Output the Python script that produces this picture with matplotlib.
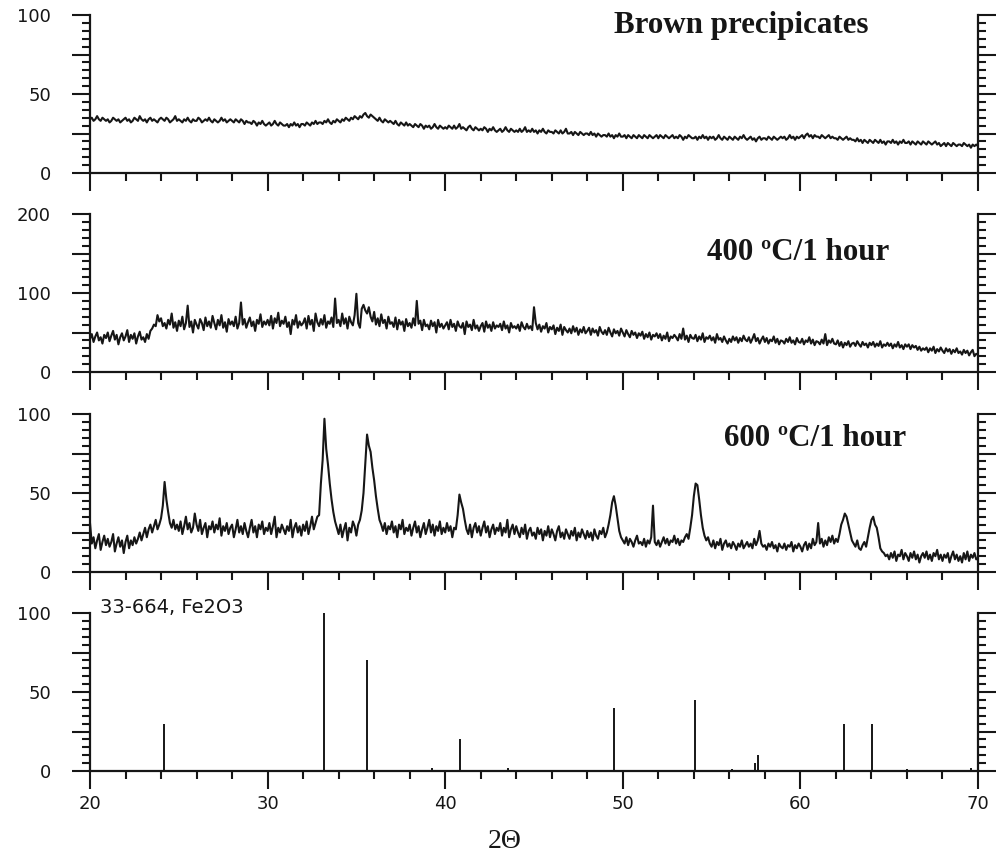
import numpy as np
import matplotlib.pyplot as plt
from matplotlib.ticker import MultipleLocator, FuncFormatter

# intensities, one value every 0.1 deg 2theta (20 -> 70)
brown = [
    34, 35, 33, 34, 36, 34, 33, 35, 34, 33,
    34, 32, 33, 35, 34, 33, 34, 32, 33, 34,
    35, 33, 34, 32, 33, 35, 34, 33, 36, 34,
    33, 34, 32, 34, 35, 33, 34, 33, 32, 34,
    35, 34, 33, 35, 34, 32, 33, 34, 36, 33,
    34, 33, 32, 34, 33, 35, 33, 32, 34, 33,
    33, 35, 34, 32, 33, 34, 33, 35, 33, 32,
    34, 33, 32, 33, 35, 33, 34, 32, 33, 34,
    33, 32, 34, 33, 32, 34, 33, 31, 33, 32,
    32, 31, 33, 32, 30, 32, 31, 33, 31, 30,
    31, 32, 30, 31, 33, 31, 30, 32, 31, 30,
    30, 31, 29, 31, 30, 32, 30, 31, 29, 31,
    31, 30, 32, 31, 30, 32, 31, 33, 31, 32,
    32, 31, 33, 32, 34, 32, 31, 33, 32, 34,
    33, 32, 34, 33, 35, 34, 33, 35, 34, 36,
    35, 34, 36, 35, 37, 38, 36, 35, 37, 36,
    35, 34, 33, 35, 33, 32, 34, 33, 32, 33,
    32, 31, 33, 31, 30, 32, 31, 30, 32, 30,
    31, 30, 29, 31, 30, 29, 31, 30, 28, 30,
    29, 30, 28, 29, 31, 29, 28, 30, 29, 28,
    29, 28, 30, 29, 28, 30, 28, 29, 31, 28,
    29, 28, 27, 29, 30, 28, 27, 29, 28, 27,
    28, 27, 29, 28, 26, 28, 27, 29, 27, 26,
    27, 28, 26, 27, 29, 27, 26, 28, 27, 26,
    27, 26, 28, 26, 27, 29, 26, 27, 26, 28,
    26, 27, 25, 27, 26, 28, 26, 25, 27, 26,
    26, 25, 27, 26, 25, 27, 25, 26, 28, 25,
    25, 26, 24, 26, 25, 24, 26, 25, 24, 25,
    25, 24, 26, 24, 25, 23, 25, 24, 23, 24,
    24, 23, 25, 23, 24, 22, 24, 23, 25, 23,
    23, 24, 22, 24, 23, 22, 24, 23, 22, 24,
    23, 22, 24, 23, 22, 24, 23, 22, 23, 24,
    22, 24, 23, 22, 24, 23, 22, 23, 24, 22,
    23, 22, 24, 23, 21, 23, 22, 24, 23, 22,
    22, 23, 21, 23, 22, 24, 22, 23, 21, 23,
    22, 23, 21, 22, 24, 22, 21, 23, 22, 21,
    23, 22, 21, 23, 22, 21, 23, 22, 24, 22,
    21, 22, 23, 21, 22, 20, 22, 23, 21, 22,
    22, 21, 23, 22, 21, 23, 22, 21, 22, 23,
    22, 23, 21, 22, 24, 22, 23, 21, 23, 22,
    23, 24, 22, 24, 25, 23, 24, 22, 24, 23,
    23, 22, 24, 23, 22, 23, 24, 22, 23, 22,
    22, 21, 23, 22, 21, 22, 23, 21, 22, 21,
    21, 20, 22, 20, 21, 19, 21, 20, 19, 21,
    20, 19, 21, 20, 19, 21, 19, 20, 18, 20,
    20, 19, 21, 19, 20, 18, 20, 19, 21, 19,
    19, 20, 18, 20, 19, 18, 20, 19, 18, 20,
    19, 18, 20, 19, 18, 19, 20, 18, 19, 17,
    18, 19, 17, 19, 18, 17, 19, 18, 17, 18,
    18, 17, 19, 18, 17, 18, 16, 18, 17, 18,
    17,
]

c400 = [
    42, 48, 38, 45, 50, 40, 44, 36, 47, 43,
    50, 39, 46, 52, 41, 47, 35, 44, 49, 40,
    45, 53, 38, 47, 42, 49, 36, 45, 51, 41,
    44, 38, 48, 42, 52, 55, 60, 58, 72, 64,
    68, 58, 62, 55, 66, 60, 74, 56, 63, 52,
    65, 58, 70, 54, 62, 84, 57, 64, 50, 66,
    60, 55, 67, 62, 53, 69, 58, 64, 56, 71,
    62, 54, 66, 59, 72, 56, 63, 51, 67, 60,
    64, 58, 70, 55, 62, 88, 60, 67, 56, 63,
    69, 58, 64, 52, 66, 61, 73, 57, 64, 60,
    66, 59, 71, 55, 68, 62, 75, 58, 65, 61,
    70, 57, 63, 48, 66, 60, 72, 56, 64, 59,
    62, 68, 55, 71, 60, 66, 52, 74, 63, 58,
    67, 60, 72, 56, 64, 61, 69, 57, 93, 62,
    66, 58, 74, 61, 68, 55, 70, 63, 59, 72,
    99, 62, 56, 80, 85, 78, 74, 82, 70, 64,
    76, 60, 68, 58, 73, 62, 66, 55, 70, 61,
    63, 57, 69, 54, 66, 60, 64, 52, 67, 58,
    62, 56, 68, 59, 90, 61, 65, 53, 66, 58,
    60, 54, 65, 58, 63, 50, 66, 57, 61, 55,
    59, 63, 54, 66, 57, 61, 52, 64, 58, 56,
    62, 48, 64, 57, 60, 53, 66, 55, 59, 52,
    58, 62, 51, 64, 56, 60, 52, 63, 55, 59,
    57, 61, 53, 64, 55, 59, 50, 62, 56, 58,
    55, 60, 52, 63, 57, 54, 61, 55, 58, 53,
    82, 62, 54, 60, 51, 58, 55, 62, 50, 57,
    54, 59, 48, 56, 52, 60, 47, 57, 53, 50,
    55, 49, 58, 51, 56, 47, 54, 50, 57, 49,
    52, 56, 47, 55, 50, 53, 46, 57, 51, 48,
    53, 47, 56, 50, 45, 54, 49, 52, 46, 55,
    50, 45, 53, 48, 44, 52, 47, 50, 43, 49,
    46, 51, 42, 48, 44, 50, 41, 47, 45, 49,
    43, 48, 40, 46, 42, 50, 39, 45, 43, 47,
    44, 40, 48, 42, 55, 41, 46, 38, 47, 43,
    42, 47, 39, 45, 41, 49, 38, 44, 42, 46,
    40, 44, 37, 48, 41, 43, 38, 45, 40, 36,
    42, 38, 45, 40, 44, 37, 43, 39, 46, 41,
    39, 44, 37, 42, 48, 39, 43, 36, 41, 45,
    38, 43, 36, 41, 39, 45, 37, 42, 35, 40,
    39, 36, 42, 38, 44, 37, 40, 35, 43, 38,
    37, 42, 35, 40, 38, 44, 36, 41, 34, 39,
    38, 35, 41, 36, 48, 34, 40, 37, 42, 36,
    35, 40, 33, 38, 31, 37, 34, 39, 32, 36,
    37, 33, 39, 35, 32, 38, 34, 36, 31, 37,
    34, 38, 32, 36, 33, 39, 31, 35, 33, 37,
    33, 36, 30, 35, 32, 38, 31, 34, 29, 35,
    32, 35, 29, 34, 31, 33, 28, 32, 27, 30,
    28, 31, 25, 30, 27, 32, 24, 29, 26, 31,
    27, 24, 30, 26, 29, 23, 28, 25, 30, 24,
    26, 22, 28, 24, 27, 21, 25, 28, 20, 23,
    22,
]

c600 = [
    31, 18, 22, 15, 20, 24, 14, 19, 23, 17,
    21, 16, 19, 24, 13, 18, 22, 16, 20, 12,
    19, 23, 15, 20, 17, 22, 18, 21, 25, 20,
    24, 28, 22, 27, 30, 25, 29, 33, 27, 30,
    34, 42, 57, 46, 38, 31, 28, 33, 27, 30,
    26, 32, 24, 29, 35, 27, 31, 25, 28, 37,
    30, 26, 33, 24, 28, 31, 22, 29, 27, 32,
    25, 30, 27, 34, 23, 29, 26, 31, 24, 28,
    30, 22, 27, 33, 25, 29, 24, 31, 26, 22,
    28, 33, 25, 29, 22, 30, 27, 32, 24, 28,
    26, 31, 24, 29, 35, 22, 28, 25, 30, 27,
    24, 29, 26, 33, 22, 28, 31, 25, 29, 23,
    30, 26, 32, 24, 29, 35, 27, 31, 35, 36,
    56, 71, 97, 78, 68, 56, 46, 38, 32, 28,
    24, 30, 22, 27, 31, 20, 28, 25, 32, 29,
    23, 30, 33, 39, 50, 68, 87, 80, 76, 66,
    58, 48, 40, 33, 30, 26, 31, 24, 29, 27,
    32, 25, 29, 22, 30, 27, 33, 24, 28, 26,
    30, 23, 28, 32, 25, 29, 22, 27, 31, 24,
    28, 33, 25, 30, 23, 29, 26, 32, 24, 28,
    25, 31, 26, 29, 22, 28, 27, 36, 49, 44,
    40, 33, 27, 24, 30, 22, 28, 31, 25, 29,
    23, 28, 32, 25, 29, 22, 27, 30, 24, 28,
    26, 31, 23, 28, 25, 33, 22, 27, 30, 24,
    29, 25, 22, 28, 24, 30, 21, 26, 28, 23,
    25, 21, 28, 24, 27, 20, 26, 23, 29, 22,
    27, 24, 20, 26, 29, 22, 25, 21, 27, 24,
    21, 26, 23, 28, 20, 25, 22, 27, 24, 21,
    26, 22, 25, 20, 27, 23, 21, 26, 24, 28,
    22, 25, 30, 36, 44, 48, 42, 34, 26, 22,
    20, 18, 22, 17, 21, 19, 16, 20, 23, 18,
    19, 17, 21, 16, 20, 18, 22, 42, 19, 17,
    20, 16, 19, 22, 18, 21, 17, 20, 19, 23,
    18, 21, 17, 20, 19, 22, 24, 21, 28, 36,
    48, 56, 55, 46, 36, 28, 23, 20, 22, 18,
    16, 20, 15, 19, 17, 21, 14, 18, 20, 16,
    18, 15, 19, 17, 14, 18, 16, 20, 15, 17,
    19, 16, 18, 15, 21, 17, 20, 26, 18, 16,
    17, 14, 18, 16, 19, 15, 17, 13, 18, 16,
    15, 18, 14, 17, 16, 19, 13, 17, 15, 18,
    16, 13, 17, 19, 14, 18, 15, 21, 17, 19,
    31, 18, 21, 16, 20, 17, 22, 19, 23, 18,
    21, 19, 24, 30, 33, 37, 35, 30, 25, 20,
    18, 16, 20, 15, 14, 17, 19, 16, 22, 28,
    33, 35, 30, 28, 22, 15, 13, 12, 10, 11,
    8, 12, 9, 13, 7, 11, 10, 14, 8, 12,
    10, 7, 12, 9, 13, 8, 11, 6, 10, 12,
    9, 13, 8, 11, 7, 12, 10, 14, 8, 11,
    7, 11, 9, 12, 6, 10, 13, 8, 11, 7,
    10, 6, 12, 8, 13, 7, 11, 9, 12, 8,
    9,
]

# reference card 33-664 (Fe2O3)
ref_pos = [24.14, 33.15, 35.61, 39.28, 40.85, 43.52, 49.48, 54.09,
           56.15, 57.43, 57.59, 62.45, 64.03, 66.03, 69.60]
ref_int = [30, 100, 70, 2, 20, 2, 40, 45, 1, 5, 10, 30, 30, 1, 2]

titles = ['Brown precipicates', '400 \u00baC/1 hour', '600 \u00baC/1 hour']
title_xy = [(0.590, 0.886), (0.695, 0.709), (0.714, 0.797)]
ymaxes = [100, 200, 100, 100]

ink = '#161616'
fig = plt.figure(figsize=(9.96, 8.56), dpi=100)

left, width, height = 90 / 996, 888 / 996, 158 / 856
bottoms = [1 - 173 / 856, 1 - 372 / 856, 1 - 572 / 856, 1 - 771 / 856]

axes = []
for k in range(4):
    ax = fig.add_axes([left, bottoms[k], width, height])
    ymax = ymaxes[k]
    ax.set_xlim(20, 70)
    ax.set_ylim(0, ymax)
    ax.spines['top'].set_visible(False)
    for s in ['left', 'right', 'bottom']:
        ax.spines[s].set_linewidth(1.6)
        ax.spines[s].set_color(ink)
    ax.xaxis.set_major_locator(MultipleLocator(10))
    ax.xaxis.set_minor_locator(MultipleLocator(2))
    ax.yaxis.set_major_locator(MultipleLocator(ymax / 4))
    ax.yaxis.set_minor_locator(MultipleLocator(ymax / 20))
    ax.yaxis.set_major_formatter(FuncFormatter(
        lambda v, p, m=ymax: '%d' % v if v % (m / 2) == 0 else ''))
    ax.tick_params(axis='y', which='both', left=True, right=True,
                   direction='out', color=ink, labelsize=13,
                   labelcolor=ink, pad=15)
    ax.tick_params(axis='x', which='both', bottom=True, top=False,
                   direction='out', color=ink, labelsize=13,
                   labelcolor=ink, pad=4)
    ax.tick_params(which='major', length=13, width=1.5)
    ax.tick_params(which='minor', length=6, width=1.5)
    if k < 3:
        ax.tick_params(axis='x', labelbottom=False)
    axes.append(ax)

two_theta = np.linspace(20, 70, len(brown))
for ax, ys in zip(axes[:3], [brown, c400, c600]):
    ax.plot(two_theta, ys, color=ink, lw=1.5)

for ax, t, (tx, ty) in zip(axes[:3], titles, title_xy):
    ax.text(tx, ty, t, transform=ax.transAxes, ha='left', va='baseline',
            family='Liberation Serif', weight='bold', fontsize=22.3,
            color=ink)

ax4 = axes[3]
ax4.vlines(ref_pos, 0, ref_int, color=ink, lw=1.4)
ax4.text(20.55, 100, '33-664, Fe2O3', ha='left', va='baseline',
         fontsize=14, color=ink)

fig.text(505 / 996, 1 - 842 / 856, '2\u0398', ha='center', va='center',
         family='Liberation Serif', fontsize=20, color=ink)

plt.savefig('out.png', dpi=100)
